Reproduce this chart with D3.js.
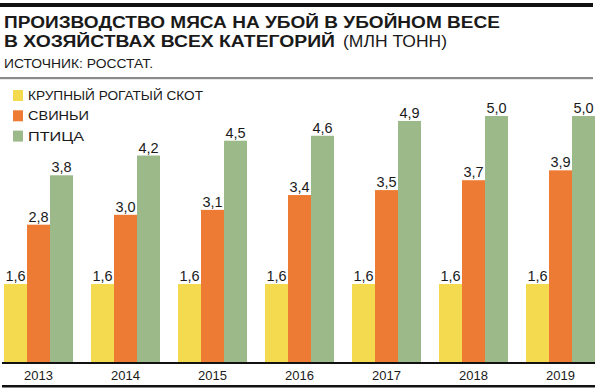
<!DOCTYPE html>
<html>
<head>
<meta charset="utf-8">
<script src="https://cdn.jsdelivr.net/npm/d3@7"></script>
<style>
  html, body { margin: 0; padding: 0; background: #fff; }
  svg { display: block; }
  text { font-family: "Liberation Sans", Arial, Helvetica, sans-serif; fill: #1a1a1a; }
</style>
</head>
<body>
<svg id="chart" width="600" height="391"></svg>
<script>
const years = ["2013", "2014", "2015", "2016", "2017", "2018", "2019"];
const seriesNames = ["КРУПНЫЙ РОГАТЫЙ СКОТ", "СВИНЬИ", "ПТИЦА"];
const cattle = [1.6, 1.6, 1.6, 1.6, 1.6, 1.6, 1.6];
const pigs = [2.8, 3.0, 3.1, 3.4, 3.5, 3.7, 3.9];
const poultry = [3.8, 4.2, 4.5, 4.6, 4.9, 5.0, 5.0];
const colors = ["#F3DA4E", "#EE7B34", "#9BB989"];
const titleLine1 = "ПРОИЗВОДСТВО МЯСА НА УБОЙ В УБОЙНОМ ВЕСЕ";
const titleLine2 = "В ХОЗЯЙСТВАХ ВСЕХ КАТЕГОРИЙ";
const titleUnit = "(МЛН ТОНН)";
const sourceText = "ИСТОЧНИК: РОССТАТ.";

const series = [cattle, pigs, poultry];
const svg = d3.select("#chart");
const titleFont = "Roboto, 'Liberation Sans', Arial, sans-serif";

// header rules
svg.append("rect").attr("x", 0).attr("y", 3).attr("width", 593).attr("height", 4).attr("fill", "#111");
svg.append("rect").attr("x", 0).attr("y", 77).attr("width", 593).attr("height", 2.2).attr("fill", "#8a8a8a");

function fit(sel, w) {
  sel.attr("textLength", w).attr("lengthAdjust", "spacingAndGlyphs");
}
svg.append("text").attr("x", 4).attr("y", 28).attr("font-size", 16.8).attr("font-weight", "bold")
  .attr("font-family", titleFont).text(titleLine1).call(fit, 496);
svg.append("text").attr("x", 4).attr("y", 47).attr("font-size", 16.8).attr("font-weight", "bold")
  .attr("font-family", titleFont).text(titleLine2).call(fit, 331);
svg.append("text").attr("x", 343).attr("y", 47).attr("font-size", 16.8).attr("fill", "#333")
  .text(titleUnit).call(fit, 104);
svg.append("text").attr("x", 4).attr("y", 68).attr("font-size", 12.5).attr("fill", "#333")
  .text(sourceText).call(fit, 149);

// legend
const legend = svg.append("g");
const legendWidths = [175, 61, 56];
seriesNames.forEach((n, i) => {
  const yb = 100 + i * 20.3;
  legend.append("rect").attr("x", 13).attr("y", yb - 10).attr("width", 10).attr("height", 11).attr("fill", colors[i]);
  legend.append("text").attr("x", 28).attr("y", yb).attr("font-size", 13).attr("fill", "#222").text(n)
    .call(fit, legendWidths[i]);
});

// scales
const x0 = d3.scaleBand().domain(years).range([4, 595]).paddingInner(18 / 87).paddingOuter(0);
const x1 = d3.scaleBand().domain(d3.range(series.length)).range([0, x0.bandwidth()]).padding(0);
const y = d3.scaleLinear().domain([0, 5]).range([363, 116]);

const groups = svg.append("g").selectAll("g").data(years).join("g")
  .attr("transform", d => `translate(${x0(d)},0)`);

groups.selectAll("rect").data((d, yi) => series.map((s, si) => ({ si, v: s[yi] }))).join("rect")
  .attr("x", d => x1(d.si))
  .attr("width", x1.bandwidth())
  .attr("y", d => y(d.v))
  .attr("height", d => y(0) - y(d.v))
  .attr("fill", d => colors[d.si]);

groups.selectAll("text.val").data((d, yi) => series.map((s, si) => ({ si, v: s[yi] }))).join("text")
  .attr("class", "val")
  .attr("x", d => x1(d.si) + x1.bandwidth() / 2)
  .attr("y", d => y(d.v) - 3)
  .attr("text-anchor", "middle")
  .attr("font-size", 14.5)
  .attr("fill", "#222")
  .text(d => d3.format(".1f")(d.v).replace(".", ","));

// x axis
const axis = svg.append("g").attr("transform", "translate(0,363)")
  .call(d3.axisBottom(x0).tickSize(0).tickPadding(0));
axis.select(".domain").remove();
axis.selectAll("text").attr("font-size", 13).attr("fill", "#222")
  .attr("font-family", '"Liberation Sans", Arial, sans-serif').attr("dy", "17px");
svg.append("rect").attr("x", 2).attr("y", 362).attr("width", 593).attr("height", 2).attr("fill", "#111");
svg.append("rect").attr("x", 2).attr("y", 385).attr("width", 593).attr("height", 2.5).attr("fill", "#111");
</script>
</body>
</html>
